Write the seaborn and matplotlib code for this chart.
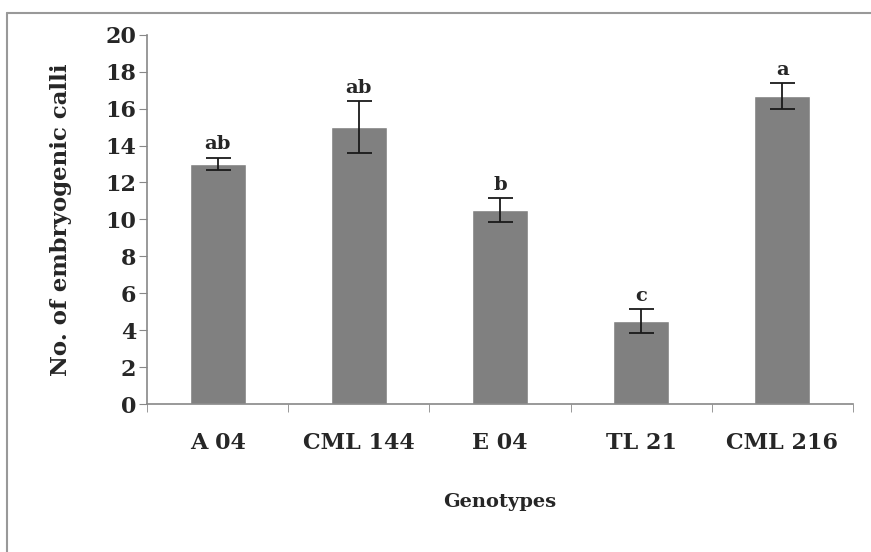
import numpy as np
import pandas as pd
import seaborn as sns
import matplotlib.pyplot as plt
from matplotlib.lines import Line2D

genotypes = ["A 04", "CML 144", "E 04", "TL 21", "CML 216"]
calli = [13.0, 15.0, 10.5, 4.5, 16.7]
errors = [0.35, 1.4, 0.65, 0.65, 0.7]
letters = ["ab", "ab", "b", "c", "a"]

df = pd.DataFrame({"Genotype": genotypes, "Calli": calli})

sns.set_style("white")
plt.rcParams["font.family"] = ["DejaVu Serif", "Liberation Serif"]
plt.rcParams["font.weight"] = "bold"

fig = plt.figure(figsize=(8.71, 5.52), dpi=100)
ax = fig.add_axes([0.169, 0.268, 0.81, 0.669])

sns.barplot(data=df, x="Genotype", y="Calli", color="#808080", width=0.4,
            saturation=1, errorbar=None, ax=ax)
ax.errorbar(range(len(genotypes)), calli, yerr=errors, fmt="none",
            ecolor="#1a1a1a", elinewidth=1.3, capsize=9, capthick=1.3)

for i, (v, e, lab) in enumerate(zip(calli, errors, letters)):
    ax.annotate(lab, (i, v + e), xytext=(0, 3), textcoords="offset points",
                ha="center", va="bottom", fontsize=14, fontweight="bold")

ax.set_ylim(0, 20)
ax.set_xlim(-0.5, len(genotypes) - 0.5)
ax.set_yticks(np.arange(0, 21, 2))
ax.set_xticks(np.arange(-0.5, len(genotypes)), minor=True)
ax.tick_params(axis="x", which="major", length=0, pad=20, labelsize=16)
ax.tick_params(axis="x", which="minor", length=6, color="#888888", direction="out", bottom=True)
ax.tick_params(axis="y", length=6, color="#888888", direction="out", left=True, labelsize=16, pad=2)
for t in ax.get_xticklabels() + ax.get_yticklabels():
    t.set_fontweight("bold")

sns.despine(ax=ax)
for s in ["left", "bottom"]:
    ax.spines[s].set_color("#888888")
    ax.spines[s].set_linewidth(1.2)

ax.set_xlabel("Genotypes", fontsize=14, fontweight="bold", labelpad=28)
ax.set_ylabel("No. of embryogenic calli", fontsize=16.5, fontweight="bold", labelpad=24)

# outer chart frame (top and left edges visible)
fig.add_artist(Line2D([7 / 871, 1], [1 - 13 / 552, 1 - 13 / 552], color="#999999", lw=1.5))
fig.add_artist(Line2D([7 / 871, 7 / 871], [0, 1 - 13 / 552], color="#999999", lw=1.5))

fig.savefig("out.png", dpi=100)
